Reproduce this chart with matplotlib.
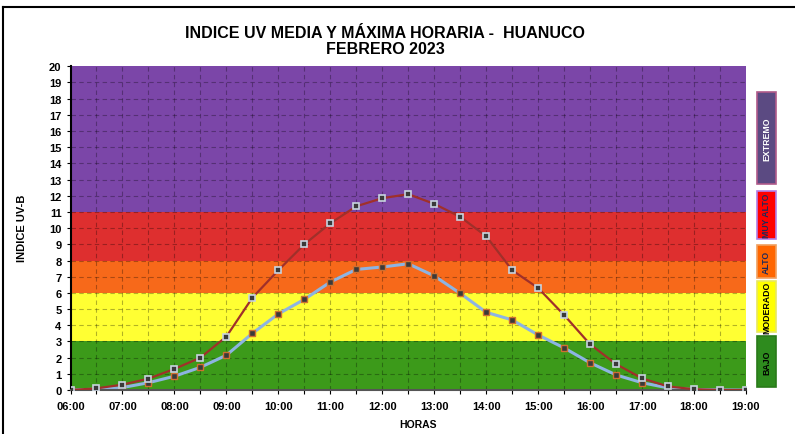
import numpy as np
import matplotlib
matplotlib.use('Agg')
import matplotlib.pyplot as plt
from matplotlib.patches import Rectangle
from matplotlib.lines import Line2D

plt.rcParams['font.family'] = ['Liberation Sans Narrow', 'Liberation Sans', 'DejaVu Sans']

# half-hour steps from 06:00 to 19:00
horas = np.arange(6.0, 19.01, 0.5)
hora_labels = ['%02d:00' % h for h in range(6, 20)]

uv_max = [0.0, 0.1, 0.33, 0.7, 1.3, 2.0, 3.3, 5.7, 7.4, 9.0, 10.3, 11.35, 11.85, 12.1,
          11.5, 10.7, 9.5, 7.4, 6.3, 4.63, 2.82, 1.6, 0.72, 0.22, 0.05, 0.0, 0.0]
uv_media = [0.0, 0.05, 0.15, 0.45, 0.85, 1.4, 2.15, 3.5, 4.7, 5.6, 6.67, 7.45, 7.6, 7.8,
            7.05, 5.97, 4.8, 4.33, 3.4, 2.6, 1.68, 0.93, 0.45, 0.13, 0.03, 0.01, 0.0]

# UV risk bands: (low, high, colour)
bandas = [(0, 3, '#3c9a1a'), (3, 6, '#ffff33'), (6, 8, '#f7691a'),
          (8, 11, '#de2f2f'), (11, 20, '#7b46a8')]

# legend boxes on the right: label, top px, bottom px, face, edge, text colour
leyenda = [('EXTREMO', 93, 185, '#5b4a82', '#b05a8a', 'white'),
           ('MUY ALTO', 192, 240, '#ff0000', '#b080e8', '#1f2a5a'),
           ('ALTO', 246, 279, '#ff6600', '#f0a060', '#1f2a5a'),
           ('MODERADO', 282, 333, '#ffff00', '#e8e860', 'black'),
           ('BAJO', 337, 388, '#2e8b1e', '#2a7a1a', 'black')]

W, H = 795, 435
fig = plt.figure(figsize=(W / 100, H / 100), dpi=100)
x0, x1, y0, y1 = 70.5, 746, 67.3, 391
ax = fig.add_axes([x0 / W, 1 - y1 / H, (x1 - x0) / W, (y1 - y0) / H])

for lo, hi, c in bandas:
    ax.axhspan(lo, hi, color=c, zorder=0, lw=0)

for y in range(1, 20):
    ax.axhline(y, color='black', alpha=0.3, lw=0.8, ls=(0, (4, 3)), zorder=1)
for x in horas[1:-1]:
    ax.axvline(x, color='black', alpha=0.3, lw=0.8, ls=(0, (4, 3)), zorder=1)

ax.plot(horas, uv_max, color='#a0302a', lw=1.6, zorder=3,
        marker='s', ms=4.5, mfc='#3a3a3a', mec='#c8d4e0', mew=1.2)
ax.plot(horas, uv_media, color='#8db4e2', lw=2.2, zorder=2,
        marker='s', ms=5, mfc='#3a3a3a', mec='#d07030', mew=1.0)

ax.set_xlim(6, 19)
ax.set_ylim(0, 20)
ax.set_yticks(range(0, 21))
ax.set_xticks(horas, minor=True)
ax.set_xticks(range(6, 20))
ax.set_xticklabels(hora_labels)
ax.tick_params(axis='both', labelsize=8, direction='out', length=3, width=0.8)
ax.tick_params(axis='x', which='minor', length=3, width=0.8)
for lab in ax.get_xticklabels() + ax.get_yticklabels():
    lab.set_fontweight('bold')
ax.tick_params(axis='x', pad=5)

for s in ['top', 'right']:
    ax.spines[s].set_visible(False)
ax.spines['left'].set_linewidth(1.5)
ax.spines['bottom'].set_color('#555555')
ax.spines['bottom'].set_linewidth(1.5)

fig.text(385 / W, 1 - 34 / H, 'INDICE UV MEDIA Y MÁXIMA HORARIA -  HUANUCO',
         ha='center', va='center', fontsize=11.5, fontweight='bold')
fig.text(385 / W, 1 - 50 / H, 'FEBRERO 2023',
         ha='center', va='center', fontsize=11.5, fontweight='bold')
fig.text(22 / W, 1 - 228 / H, 'INDICE UV-B', rotation=90,
         ha='center', va='center', fontsize=8, fontweight='bold')
fig.text(418 / W, 1 - 425 / H, 'HORAS',
         ha='center', va='center', fontsize=7.5, fontweight='bold')

for txt, top, bot, fc, ec, tc in leyenda:
    fig.add_artist(Rectangle((757 / W, 1 - bot / H), 19 / W, (bot - top) / H,
                             transform=fig.transFigure, facecolor=fc,
                             edgecolor=ec, lw=1.2))
    fig.text(766.5 / W, 1 - (top + bot) / 2 / H, txt, rotation=90,
             ha='center', va='center', fontsize=6.3, fontweight='bold', color=tc)

# outer chart frame
fig.add_artist(Line2D([3 / W, 1], [1 - 8 / H, 1 - 8 / H], color='black', lw=1.5,
                      transform=fig.transFigure))
fig.add_artist(Line2D([3 / W, 3 / W], [0, 1 - 8 / H], color='black', lw=1.5,
                      transform=fig.transFigure))

fig.savefig('out.png', dpi=100)
